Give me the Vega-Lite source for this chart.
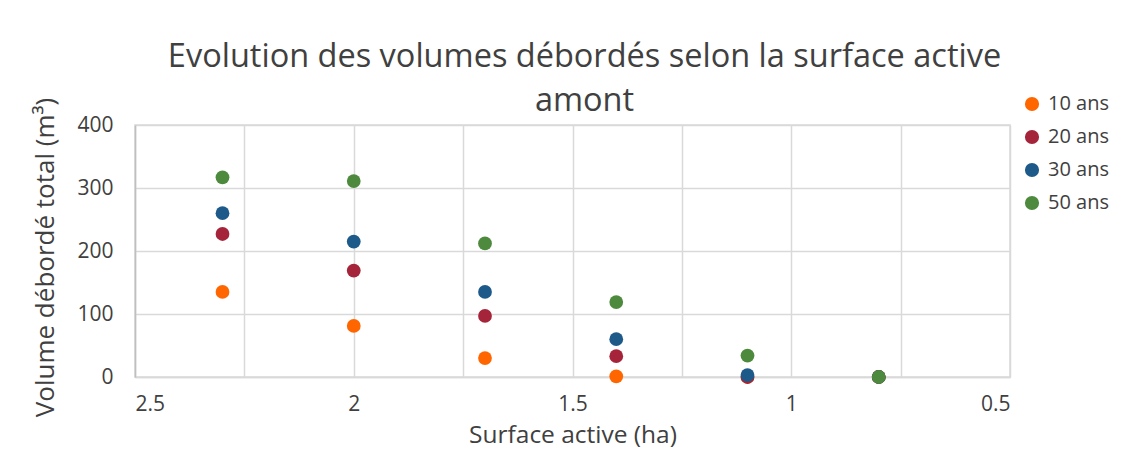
{
  "$schema": "https://vega.github.io/schema/vega-lite/v6.json",
  "width": 875,
  "height": 252,
  "autosize": {"type": "none"},
  "padding": {"left": 135, "top": 125, "right": 115, "bottom": 72},
  "background": "white",
  "title": {
    "text": ["Evolution des volumes débordés selon la surface active", "amont"],
    "anchor": "middle",
    "frame": "group",
    "dx": 12,
    "offset": -23,
    "font": "Open Sans",
    "fontSize": 32.5,
    "fontWeight": "normal",
    "color": "#404040",
    "lineHeight": 44
  },
  "data": {
    "values": [
      {"surface": 2.3, "volume": 135, "serie": "10 ans"},
      {"surface": 2.0, "volume": 81, "serie": "10 ans"},
      {"surface": 1.7, "volume": 30, "serie": "10 ans"},
      {"surface": 1.4, "volume": 1, "serie": "10 ans"},
      {"surface": 1.1, "volume": 0, "serie": "10 ans"},
      {"surface": 0.8, "volume": 0, "serie": "10 ans"},
      {"surface": 2.3, "volume": 227, "serie": "20 ans"},
      {"surface": 2.0, "volume": 169, "serie": "20 ans"},
      {"surface": 1.7, "volume": 97, "serie": "20 ans"},
      {"surface": 1.4, "volume": 33, "serie": "20 ans"},
      {"surface": 1.1, "volume": 0, "serie": "20 ans"},
      {"surface": 0.8, "volume": 0, "serie": "20 ans"},
      {"surface": 2.3, "volume": 260, "serie": "30 ans"},
      {"surface": 2.0, "volume": 215, "serie": "30 ans"},
      {"surface": 1.7, "volume": 135, "serie": "30 ans"},
      {"surface": 1.4, "volume": 60, "serie": "30 ans"},
      {"surface": 1.1, "volume": 3, "serie": "30 ans"},
      {"surface": 0.8, "volume": 0, "serie": "30 ans"},
      {"surface": 2.3, "volume": 317, "serie": "50 ans"},
      {"surface": 2.0, "volume": 311, "serie": "50 ans"},
      {"surface": 1.7, "volume": 212, "serie": "50 ans"},
      {"surface": 1.4, "volume": 119, "serie": "50 ans"},
      {"surface": 1.1, "volume": 34, "serie": "50 ans"},
      {"surface": 0.8, "volume": 0, "serie": "50 ans"}
    ]
  },
  "mark": {"type": "point", "filled": true, "opacity": 1, "size": 190},
  "encoding": {
    "x": {
      "field": "surface",
      "type": "quantitative",
      "scale": {"domain": [0.5, 2.5], "reverse": true, "nice": false, "zero": false},
      "axis": {
        "values": [0.5, 0.75, 1, 1.25, 1.5, 1.75, 2, 2.25, 2.5],
        "labelExpr": "(datum.value * 2) % 1 == 0 ? format(datum.value, '~g') : ''",
        "title": "Surface active (ha)",
        "titleFontSize": 24.5,
        "titleFontWeight": "normal",
        "titleColor": "#404040",
        "titleY": 65,
        "titleBaseline": "alphabetic",
        "labelFontSize": 21,
        "labelColor": "#404040",
        "labelPadding": 16,
        "ticks": false,
        "grid": true,
        "gridColor": "#d9d9d9",
        "gridWidth": 1.5,
        "domainColor": "#d9d9d9",
        "domainWidth": 1.5
      }
    },
    "y": {
      "field": "volume",
      "type": "quantitative",
      "scale": {"domain": [0, 400], "nice": false},
      "axis": {
        "values": [0, 100, 200, 300, 400],
        "title": "Volume débordé total (m³)",
        "titleFontSize": 26,
        "titleFontWeight": "normal",
        "titleColor": "#404040",
        "titleX": -90,
        "titleY": 132,
        "titleAngle": -90,
        "titleAlign": "center",
        "titleBaseline": "middle",
        "labelFontSize": 21,
        "labelColor": "#404040",
        "labelPadding": 22,
        "ticks": false,
        "grid": true,
        "gridColor": "#d9d9d9",
        "gridWidth": 1.5,
        "domainColor": "#bfbfbf",
        "domainWidth": 1.5
      }
    },
    "color": {
      "field": "serie",
      "type": "nominal",
      "scale": {
        "domain": ["10 ans", "20 ans", "30 ans", "50 ans"],
        "range": ["#ff6600", "#a5243a", "#1d5a8a", "#4e8a3e"]
      },
      "legend": {
        "title": null,
        "orient": "none",
        "legendX": 887,
        "legendY": -31,
        "symbolType": "circle",
        "symbolSize": 200,
        "labelFontSize": 20,
        "labelColor": "#404040",
        "rowPadding": 13,
        "labelOffset": 6
      }
    }
  },
  "config": {
    "font": "Open Sans",
    "view": {"stroke": "#d9d9d9", "strokeWidth": 1.5}
  }
}
